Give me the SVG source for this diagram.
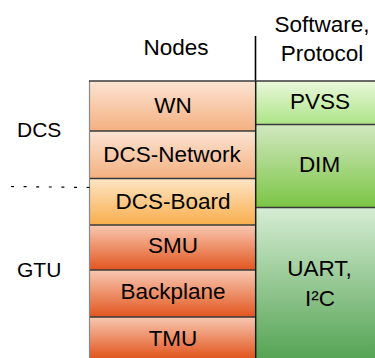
<svg xmlns="http://www.w3.org/2000/svg" width="375" height="358" viewBox="0 0 375 358">
  <defs>
    <linearGradient id="gPeach" x1="0" y1="0" x2="0" y2="1">
      <stop offset="0" stop-color="#fbe4d3"/>
      <stop offset="1" stop-color="#f4b080"/>
    </linearGradient>
    <linearGradient id="gAmber" x1="0" y1="0" x2="0" y2="1">
      <stop offset="0" stop-color="#fde5c6"/>
      <stop offset="1" stop-color="#f9ae4c"/>
    </linearGradient>
    <linearGradient id="gRed" x1="0" y1="0" x2="0" y2="1">
      <stop offset="0" stop-color="#f8c8b2"/>
      <stop offset="1" stop-color="#e2561f"/>
    </linearGradient>
    <linearGradient id="gLime" x1="0" y1="0" x2="0" y2="1">
      <stop offset="0" stop-color="#eaf8dc"/>
      <stop offset="1" stop-color="#ace487"/>
    </linearGradient>
    <linearGradient id="gGrass" x1="0" y1="0" x2="0" y2="1">
      <stop offset="0" stop-color="#d2e8c1"/>
      <stop offset="1" stop-color="#7bc544"/>
    </linearGradient>
    <linearGradient id="gForest" x1="0" y1="0" x2="0" y2="1">
      <stop offset="0" stop-color="#d6edd4"/>
      <stop offset="1" stop-color="#56a455"/>
    </linearGradient>
  </defs>
  <style>
    text { font-family: "Liberation Sans", Arial, sans-serif; fill: #000; text-anchor: middle; }
    .cell { font-size: 22.5px; }
    .head { font-size: 22.5px; }
    .side { font-size: 21px; text-anchor: start; }
    .sep { stroke: #3a3a3a; stroke-width: 1.3; fill: none; }
  </style>

  <!-- column headers -->
  <g id="header">
    <text class="head" x="176" y="55">Nodes</text>
    <text class="head" x="322" y="32">Software,</text>
    <text class="head" x="322" y="61">Protocol</text>
    <line x1="255.5" y1="36" x2="255.5" y2="81" stroke="#000" stroke-width="1.6"/>
  </g>

  <!-- side labels -->
  <g id="side-labels">
    <text class="side" x="17" y="137">DCS</text>
    <text class="side" x="17" y="277">GTU</text>
  </g>

  <!-- node column -->
  <g id="node-WN">
    <rect x="90" y="81" width="166" height="50" fill="url(#gPeach)"/>
    <text class="cell" x="173" y="113">WN</text>
  </g>
  <g id="node-DCS-Network">
    <rect x="90" y="131" width="166" height="47.5" fill="url(#gPeach)"/>
    <text class="cell" x="172" y="162">DCS-Network</text>
  </g>
  <g id="node-DCS-Board">
    <rect x="90" y="178.5" width="166" height="46.5" fill="url(#gAmber)"/>
    <text class="cell" x="173" y="209">DCS-Board</text>
  </g>
  <g id="node-SMU">
    <rect x="90" y="225" width="166" height="45" fill="url(#gRed)"/>
    <text class="cell" x="173" y="253">SMU</text>
  </g>
  <g id="node-Backplane">
    <rect x="90" y="270" width="166" height="47" fill="url(#gRed)"/>
    <text class="cell" x="173" y="299">Backplane</text>
  </g>
  <g id="node-TMU">
    <rect x="90" y="317" width="166" height="41" fill="url(#gRed)"/>
    <text class="cell" x="173" y="346">TMU</text>
  </g>

  <!-- protocol column -->
  <g id="proto-PVSS">
    <rect x="256" y="81" width="119" height="43.5" fill="url(#gLime)"/>
    <text class="cell" x="320" y="109">PVSS</text>
  </g>
  <g id="proto-DIM">
    <rect x="256" y="124.5" width="119" height="83" fill="url(#gGrass)"/>
    <text class="cell" x="319.5" y="172">DIM</text>
  </g>
  <g id="proto-UART">
    <rect x="256" y="207.5" width="119" height="150.5" fill="url(#gForest)"/>
    <text class="cell" x="319.5" y="276">UART,</text>
    <text class="cell" x="320" y="306">I²C</text>
  </g>

  <!-- borders, row separators and the DCS/GTU divider -->
  <g id="connectors">
    <line x1="89.5" y1="81" x2="89.5" y2="358" stroke="#8a8a8a" stroke-width="1.2"/>
    <line x1="89" y1="81" x2="375" y2="81" class="sep"/>
    <line x1="90" y1="131" x2="256" y2="131" class="sep"/>
    <line x1="90" y1="178.5" x2="256" y2="178.5" class="sep"/>
    <line x1="90" y1="225" x2="256" y2="225" class="sep"/>
    <line x1="90" y1="270" x2="256" y2="270" class="sep"/>
    <line x1="90" y1="317" x2="256" y2="317" class="sep"/>
    <line x1="256" y1="124.5" x2="375" y2="124.5" class="sep"/>
    <line x1="256" y1="207.5" x2="375" y2="207.5" class="sep"/>
    <line x1="255.7" y1="81" x2="255.7" y2="358" stroke="#1a1a1a" stroke-width="1.5"/>
    <line x1="11" y1="186.5" x2="90" y2="187.5" stroke="#000" stroke-width="1.2" stroke-dasharray="3,9.6"/>
  </g>
</svg>
